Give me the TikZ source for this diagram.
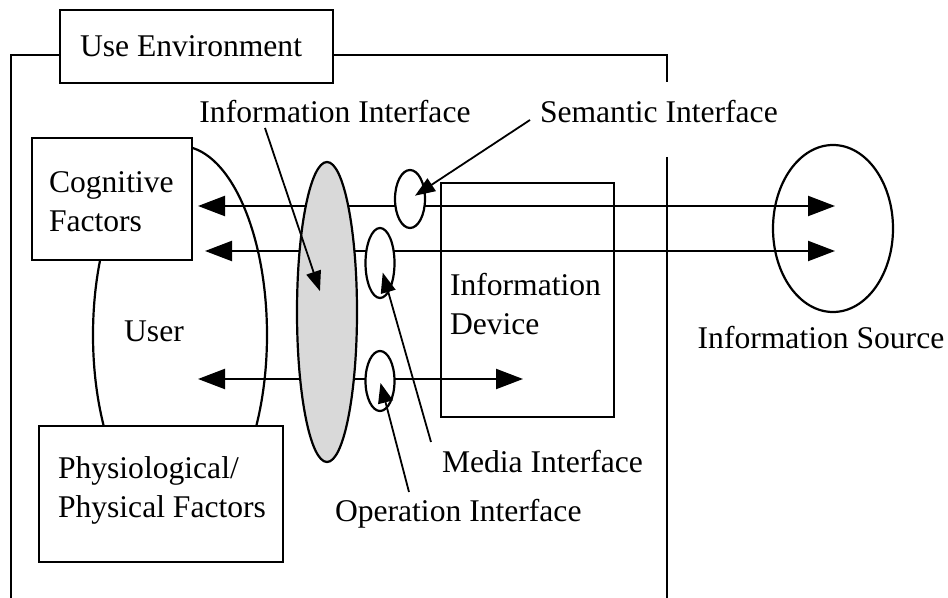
\documentclass[tikz,border=0pt]{standalone}
\usepackage{fontspec}
\setmainfont{Liberation Serif}
\usetikzlibrary{arrows.meta,shapes.geometric}

\begin{document}
\begin{tikzpicture}[x=0.5pt, y=-0.5pt, line width=1.1pt]
\tikzset{ >={Triangle[length=13.5pt,width=10pt]},
  every node/.style={font=\fontsize{15.8pt}{19.5pt}\selectfont, inner sep=0pt, outer sep=0pt},
  box/.style={draw, fill=white, rectangle},
  oval/.style={draw, ellipse},
  lead/.style={line width=0.9pt, -{Triangle[length=10pt,width=7.5pt]}},
}
\useasboundingbox (0,0) rectangle (948,598);

%\draw [lightgray, dashed] (0,0) grid[step=50] (948,598);

% use environment
\node [box, minimum width=136.5pt, minimum height=36.5pt] (E) at (196.5,46.5) {};
\node [anchor=base west] (lE) at (80,57) {Use Environment};
\draw (60,55) -- (11,55) -- (11,598);
\draw (333,55) -- (667,55) -- (667,82);
\draw (667,157) -- (667,598);

% user
\node [oval, minimum width=87pt, minimum height=189pt] (U) at (180,335) {};
\node [anchor=base] (lU) at (154,342) {User};
\node [box, minimum width=80pt, minimum height=61pt] (C) at (112,199) {};
\node [anchor=base west, align=left] (lC) at (49,232) {Cognitive\\Factors};
\node [box, minimum width=122pt, minimum height=68pt] (P) at (161,494) {};
\node [anchor=base west, align=left] (lP) at (58,517) {Physiological/\\Physical Factors};

% flows
\coordinate (CA) at (198,206);
\coordinate (SA) at (835,206);
\coordinate (CB) at (205,251);
\coordinate (SB) at (835,251);
\coordinate (UC) at (198,379);
\coordinate (DC) at (523,379);
\draw [<->] (CA) -- (SA);
\draw [<->] (CB) -- (SB);
\draw [<->] (UC) -- (DC);

% interfaces
\node [oval, fill=black!15, minimum width=30pt, minimum height=150pt] (II) at (327,312) {};
\node [oval, fill=white, minimum width=15pt, minimum height=29pt] (SI) at (410,199) {};
\node [oval, fill=white, minimum width=14.5pt, minimum height=35pt] (MI) at (380,263) {};
\node [oval, fill=white, minimum width=14.5pt, minimum height=30pt] (OI) at (380,381) {};

% device and source
\node [draw, minimum width=86.5pt, minimum height=117pt] (D) at (527.5,300) {};
\node [anchor=base west, align=left] (lD) at (450,335) {Information\\Device};
\node [oval, minimum width=60pt, minimum height=83.5pt] (S) at (833,228.5) {};
\node [anchor=base] (lS) at (821,349) {Information Source};

% labels
\node [anchor=base] (lII) at (335,123) {Information Interface};
\node [anchor=base west] (lSI) at (540,123) {Semantic Interface};
\node [anchor=base west] (lMI) at (442,473) {Media Interface};
\node [anchor=base west] (lOI) at (335,522) {Operation Interface};

\coordinate (tII) at (265,128);
\coordinate (tSI) at (530,120);
\coordinate (tMI) at (431,442);
\coordinate (tOI) at (409,492);
\draw [lead, shorten >=11pt] (tII) -- (II.center);
\draw [lead, shorten >=3pt]  (tSI) -- (SI.center);
\draw [lead, shorten >=5pt]  (tMI) -- (MI.center);
\draw [lead, shorten >=1pt]  (tOI) -- (OI.center);
\end{tikzpicture}
\end{document}
